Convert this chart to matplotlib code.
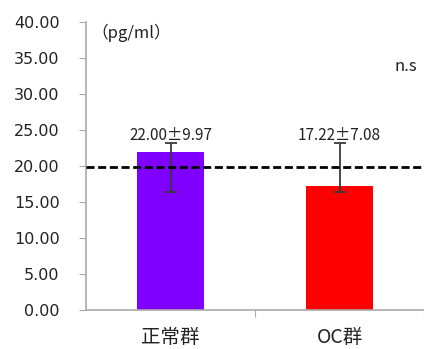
import matplotlib.pyplot as plt
import numpy as np

plt.rcParams['font.family'] = ['DejaVu Sans', 'Noto Sans CJK JP']

groups = ["正常群", "OC群"]
means = [22.00, 17.22]
err_low = [16.4, 16.4]
err_high = [23.2, 23.2]
labels = ["22.00±9.97", "17.22±7.08"]
colors = ["#8000FF", "#FF0000"]
ref_line = 19.9
yticks = [0, 5, 10, 15, 20, 25, 30, 35, 40]

fig = plt.figure(figsize=(4.24, 3.49), dpi=100)
ax = fig.add_axes([86/424, 39/349, 1 - 86/424, 288/349])

x = np.arange(len(groups))
ax.bar(x, means, width=0.4, color=colors, zorder=2)

lo = np.array(means) - np.array(err_low)
hi = np.array(err_high) - np.array(means)
ax.errorbar(x, means, yerr=[lo, hi], fmt="none", ecolor="#3a3a3a",
            elinewidth=1.3, capsize=4, capthick=1.3, zorder=3)

ax.axhline(ref_line, color="black", linestyle=(0, (2.9, 1.3)), linewidth=2.0, zorder=4)

for xi, lab in zip(x, labels):
    ax.text(xi, 24.3, lab, ha="center", va="center", fontsize=11,
            family=["Noto Sans CJK JP"], color="#222222")

ax.text(0.015, 0.962, "（pg/ml）", transform=ax.transAxes, ha="left", va="center",
        fontsize=12, family=["Noto Sans CJK JP"], color="#222222")
ax.text(0.947, 0.844, "n.s", transform=ax.transAxes, ha="center", va="center",
        fontsize=12, family=["Noto Sans CJK JP"], color="#222222")

ax.set_xlim(-0.5, 1.443)
ax.set_ylim(0, 40)
ax.set_yticks(yticks)
ax.set_yticklabels([f"{v:.2f}" for v in yticks], fontsize=11.5, color="#222222")

ax.set_xticks([0.5, 1.5])
ax.set_xticklabels(["", ""])
ax.set_xticks(x, minor=True)
ax.set_xticklabels(groups, minor=True, fontsize=14, family=["Noto Sans CJK JP"],
                   color="#222222")
ax.tick_params(axis="x", which="major", length=5, color="#aaaaaa", direction="out")
ax.tick_params(axis="x", which="minor", length=0, pad=12)
ax.tick_params(axis="y", length=5, color="#aaaaaa", pad=14)

for s in ["top", "right"]:
    ax.spines[s].set_visible(False)
for s in ["left", "bottom"]:
    ax.spines[s].set_color("#aaaaaa")
    ax.spines[s].set_linewidth(1.2)

fig.savefig("out.png", dpi=100)
